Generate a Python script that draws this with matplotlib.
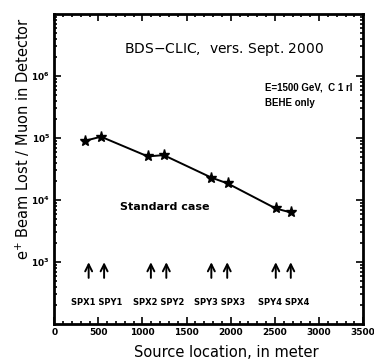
import matplotlib
matplotlib.use('Agg')
import matplotlib.pyplot as plt
from matplotlib.ticker import FixedLocator, LogLocator, NullFormatter, MultipleLocator

# Valori
source_x = [345, 530, 1060, 1240, 1780, 1965, 2510, 2680]
beam_lost = [9.0e4, 1.05e5, 5.05e4, 5.3e4, 2.3e4, 1.85e4, 7.3e3, 6.3e3]

# Posizioni delle frecce (spoiler) ed etichette
arrow_x = [390, 565, 1095, 1270, 1780, 1960, 2510, 2680]
pair_labels = ['SPX1 SPY1', 'SPX2 SPY2', 'SPY3 SPX3', 'SPY4 SPX4']

y_ticks = [1e3, 1e4, 1e5, 1e6]
y_tick_labels = ['$\\mathbf{10^{3}}$', '$\\mathbf{10^{4}}$', '$\\mathbf{10^{5}}$', '$\\mathbf{10^{6}}$']
x_ticks = [0, 500, 1000, 1500, 2000, 2500, 3000, 3500]

fig = plt.figure(figsize=(3.74, 3.6), dpi=100)
ax = fig.add_axes([0.145, 0.1, 0.826, 0.861])

ax.plot(source_x, beam_lost, color='black', linewidth=1.4, marker='*', markersize=8)

ax.set_yscale('log')
ax.set_xlim(0, 3500)
ax.set_ylim(1e2, 1e7)

# Assi e tacche
ax.xaxis.set_major_locator(FixedLocator(x_ticks))
ax.xaxis.set_minor_locator(MultipleLocator(100))
ax.set_xticklabels([str(v) for v in x_ticks], fontsize=6.5, fontweight='bold')
ax.yaxis.set_major_locator(FixedLocator(y_ticks))
ax.yaxis.set_minor_locator(LogLocator(base=10, subs=range(2, 10)))
ax.yaxis.set_minor_formatter(NullFormatter())
ax.set_yticklabels(y_tick_labels, fontsize=6.5)
ax.tick_params(which='both', direction='in', top=True, right=True, width=1.2)
ax.tick_params(which='major', length=5, pad=3)
ax.tick_params(which='minor', length=2.5)
for s in ax.spines.values():
    s.set_linewidth(2)

# Frecce verso le posizioni degli spoiler
for xa in arrow_x:
    ax.annotate('', xy=(xa, 1.1e3), xytext=(xa, 5.0e2),
                arrowprops=dict(arrowstyle='->,head_length=0.5,head_width=0.25',
                                color='black', linewidth=1.4))

for i, lab in enumerate(pair_labels):
    xm = (arrow_x[2 * i] + arrow_x[2 * i + 1]) / 2
    ax.text(xm, 2.25e2, lab, fontsize=6, fontweight='bold', ha='center', va='center')

ax.text(1930, 2.7e6, 'BDS$-$CLIC,  vers. Sept. 2000', fontsize=10, ha='center', va='center')
ax.text(2390, 6.6e5, 'E=1500 GeV,  C 1 rl', fontsize=7, fontweight='bold',
        family='Liberation Sans', ha='left', va='center')
ax.text(2390, 3.7e5, 'BEHE only', fontsize=7, fontweight='bold',
        family='Liberation Sans', ha='left', va='center')
ax.text(740, 7.6e3, 'Standard case', fontsize=8, fontweight='bold', ha='left', va='center')

ax.set_xlabel('Source location, in meter', fontsize=10.5)
ax.xaxis.set_label_coords(0.557, -0.068)
ax.set_ylabel('e$^{+}$ Beam Lost / Muon in Detector', fontsize=10.5)
ax.yaxis.set_label_coords(-0.072, 0.6)

plt.savefig('out.png', dpi=100)
